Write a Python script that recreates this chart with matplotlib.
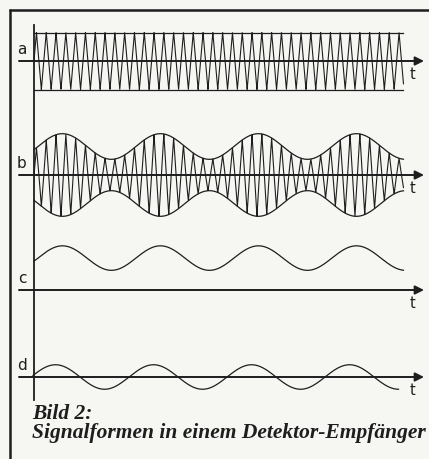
import numpy as np
import matplotlib
matplotlib.use("Agg")
import matplotlib.pyplot as plt

# ---- values ----------------------------------------------------------
# time is measured in periods of the modulating (audio) signal
T_END = 3.77            # length of the traces
T_END_D = 3.73
CARRIER_PER_MOD = 10    # carrier cycles per audio period
ENV_PHASE = 0.04        # phase of the envelope / demodulated signal
D_PHASE = -0.02         # phase of the AC-coupled output

# amplitudes in units of the unmodulated carrier amplitude
a_amp = 1.0
b_mean = 1.0
b_depth = 0.45
c_offset = 1.12
c_amp = 0.43
d_amp = 0.43

labels = ["a", "b", "c", "d"]
caption_1 = "Bild 2:"
caption_2 = "Signalformen in einem Detektor-Empfänger"

# ---- layout (pixels) ---------------------------------------------------
W, H = 429, 459
X0 = 34            # left end of the traces (vertical axis)
PX_PER_T = 98      # pixels per audio period
Y_SCALE = 28.5     # pixels per amplitude unit
baselines = [61, 175, 290, 377]
ink = "#1e1e1e"
paper = "#f6f6f3"


def px(t):
    return X0 + t * PX_PER_T


def py(row, v):
    return baselines[row] - v * Y_SCALE


fig = plt.figure(figsize=(W / 100, H / 100), dpi=100, facecolor=paper)
ax = fig.add_axes([0, 0, 1, 1])
ax.set_xlim(0, W)
ax.set_ylim(H, 0)
ax.axis("off")
ax.set_facecolor(paper)

t = np.linspace(0, T_END, 8000)
# plotter-drawn carrier: nearly straight strokes between the peaks
carrier = 2 / np.pi * np.arcsin(np.sin(2 * np.pi * CARRIER_PER_MOD * t))
audio = np.sin(2 * np.pi * (t - ENV_PHASE))

# a: unmodulated carrier
ax.plot(px(t), py(0, a_amp * carrier), color=ink, lw=0.8)
ax.plot([px(0), px(T_END)], [py(0, a_amp)] * 2, color=ink, lw=0.9)
ax.plot([px(0), px(T_END)], [py(0, -a_amp)] * 2, color=ink, lw=0.9)

# b: amplitude modulated carrier with envelope
env = b_mean + b_depth * audio
ax.plot(px(t), py(1, env * carrier), color=ink, lw=0.8)
ax.plot(px(t), py(1, env), color=ink, lw=0.9)
ax.plot(px(t), py(1, -env), color=ink, lw=0.9)

# c: rectified / demodulated signal with DC part
ax.plot(px(t), py(2, c_offset + c_amp * audio), color=ink, lw=0.9)

# d: audio signal without DC
td = np.linspace(0, T_END_D, 2000)
ax.plot(px(td) - 1, py(3, d_amp * np.sin(2 * np.pi * (td - D_PHASE))),
        color=ink, lw=0.9)

# axes with arrows
ax.plot([33.5, 33.5], [25, 400], color=ink, lw=1.3)
for row, lab in enumerate(labels):
    y = baselines[row]
    ax.annotate("", xy=(424, y), xytext=(19, y),
                arrowprops=dict(arrowstyle="-|>", color=ink, lw=1.4,
                                mutation_scale=13, shrinkA=0, shrinkB=0))
    ax.text(22, y - 4, lab, fontsize=11, color=ink, ha="center",
            va="bottom", family=["Liberation Sans Narrow", "DejaVu Sans"])
    ax.text(413, y + 6, "t", fontsize=10.5, color=ink, ha="center",
            va="top", family=["Liberation Sans Narrow", "DejaVu Sans"])

# frame
ax.plot([9, W], [9.5, 9.5], color=ink, lw=1.8, solid_capstyle="butt")
ax.plot([9.5, 9.5], [9, H], color=ink, lw=1.8, solid_capstyle="butt")

# caption
ax.text(32, 419, caption_1, fontsize=15.5, color=ink, fontweight="bold",
        fontstyle="italic", family="Liberation Serif", va="baseline")
ax.text(32, 438, caption_2, fontsize=15.5, color=ink, fontweight="bold",
        fontstyle="italic", family="Liberation Serif", va="baseline")

fig.savefig("out.png", dpi=100, facecolor=paper)
